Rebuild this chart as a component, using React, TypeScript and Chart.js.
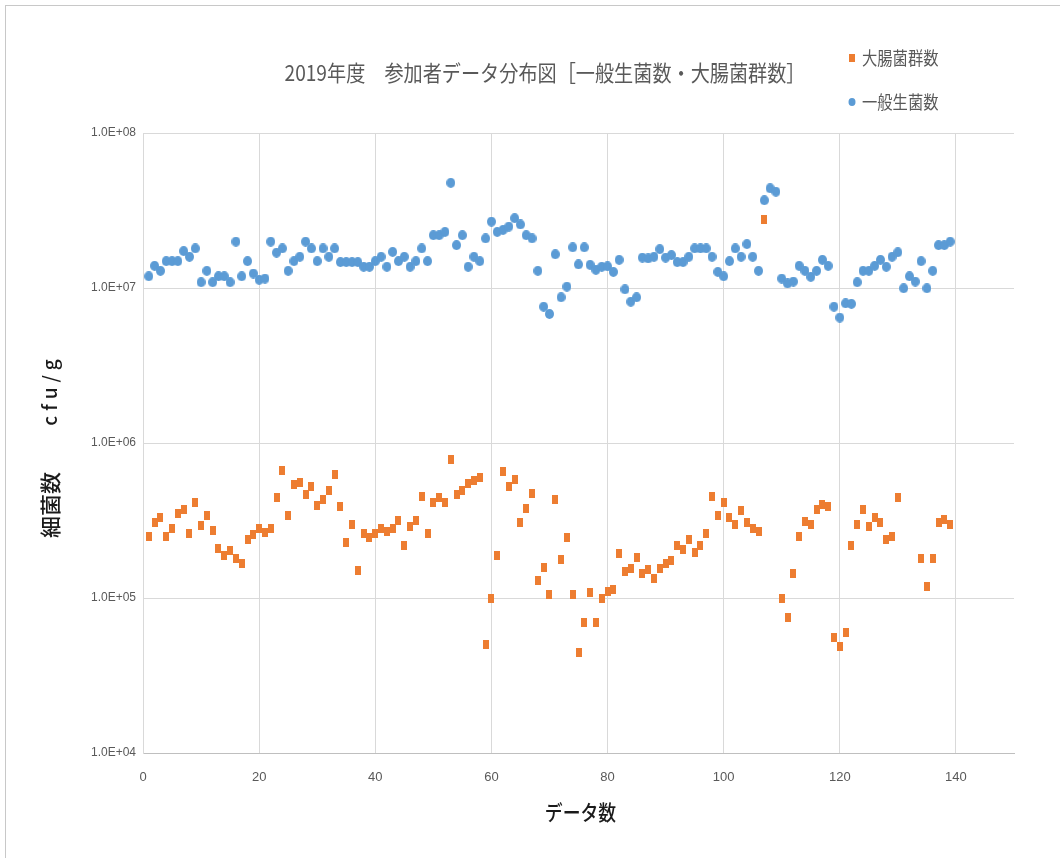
import React, { useEffect, useRef } from "react";
import { Chart, registerables } from "chart.js";

Chart.register(...registerables);

// 参加者番号（横軸）
const participantNo: number[] = Array.from({ length: 139 }, (_, i) => i + 1);

// 大腸菌群数 (cfu/g)
const coliformCounts: (number | null)[] = [
  2.51e5, 3.08e5, 3.31e5, 2.51e5, 2.82e5, 3.52e5, 3.7e5, 2.6e5, 4.12e5, 2.92e5,
  3.42e5, 2.72e5, 2.09e5, 1.88e5, 2.02e5, 1.79e5, 1.68e5, 2.37e5, 2.57e5, 2.79e5,
  2.63e5, 2.79e5, 4.47e5, 6.63e5, 3.4e5, 5.36e5, 5.55e5, 4.67e5, 5.22e5, 3.98e5,
  4.31e5, 4.92e5, 6.3e5, 3.88e5, 2.27e5, 2.98e5, 1.5e5, 2.6e5, 2.47e5, 2.6e5,
  2.8e5, 2.68e5, 2.79e5, 3.18e5, 2.17e5, 2.88e5, 3.18e5, 4.51e5, 2.6e5, 4.12e5,
  4.47e5, 4.12e5, 7.85e5, 4.62e5, 4.92e5, 5.5e5, 5.77e5, 6.01e5, 4.98e4, 9.95e4,
  1.88e5, 6.53e5, 5.23e5, 5.83e5, 3.09e5, 3.77e5, 4.72e5, 1.29e5, 1.58e5, 1.06e5,
  4.31e5, 1.76e5, 2.45e5, 1.05e5, 4.47e4, 6.97e4, 1.09e5, 6.97e4, 9.95e4, 1.1e5,
  1.14e5, 1.94e5, 1.49e5, 1.55e5, 1.83e5, 1.43e5, 1.52e5, 1.33e5, 1.55e5, 1.68e5,
  1.74e5, 2.19e5, 2.06e5, 2.39e5, 1.98e5, 2.19e5, 2.6e5, 4.51e5, 3.4e5, 4.12e5,
  3.31e5, 2.99e5, 3.67e5, 3.09e5, 2.8e5, 2.7e5, 2.75e7, null, null, 9.95e4,
  7.5e4, 1.43e5, 2.5e5, 3.1e5, 3.0e5, 3.7e5, 4.04e5, 3.88e5, 5.55e4, 4.86e4,
  5.97e4, 2.19e5, 3.0e5, 3.73e5, 2.88e5, 3.31e5, 3.09e5, 2.37e5, 2.5e5, 4.42e5,
  null, null, null, 1.79e5, 1.18e5, 1.79e5, 3.09e5, 3.22e5, 3.0e5,
];

// 一般生菌数 (cfu/g)
const generalCounts: number[] = [
  1.19e7, 1.39e7, 1.29e7, 1.49e7, 1.49e7, 1.49e7, 1.73e7, 1.59e7, 1.8e7, 1.09e7,
  1.29e7, 1.09e7, 1.19e7, 1.19e7, 1.09e7, 1.99e7, 1.19e7, 1.49e7, 1.24e7, 1.13e7,
  1.15e7, 1.99e7, 1.69e7, 1.8e7, 1.29e7, 1.49e7, 1.59e7, 1.99e7, 1.8e7, 1.49e7,
  1.8e7, 1.59e7, 1.8e7, 1.47e7, 1.47e7, 1.47e7, 1.47e7, 1.37e7, 1.37e7, 1.49e7,
  1.59e7, 1.37e7, 1.71e7, 1.49e7, 1.59e7, 1.37e7, 1.49e7, 1.8e7, 1.49e7, 2.19e7,
  2.19e7, 2.3e7, 4.77e7, 1.89e7, 2.19e7, 1.37e7, 1.59e7, 1.49e7, 2.09e7, 2.68e7,
  2.3e7, 2.37e7, 2.49e7, 2.82e7, 2.57e7, 2.19e7, 2.09e7, 1.29e7, 7.57e6, 6.8e6,
  1.65e7, 8.71e6, 1.02e7, 1.83e7, 1.42e7, 1.83e7, 1.41e7, 1.31e7, 1.37e7, 1.38e7,
  1.27e7, 1.52e7, 9.8e6, 8.16e6, 8.7e6, 1.57e7, 1.55e7, 1.59e7, 1.78e7, 1.57e7,
  1.63e7, 1.47e7, 1.47e7, 1.59e7, 1.8e7, 1.8e7, 1.8e7, 1.59e7, 1.27e7, 1.19e7,
  1.49e7, 1.8e7, 1.59e7, 1.92e7, 1.59e7, 1.29e7, 3.68e7, 4.4e7, 4.18e7, 1.15e7,
  1.07e7, 1.1e7, 1.39e7, 1.29e7, 1.18e7, 1.29e7, 1.52e7, 1.39e7, 7.57e6, 6.44e6,
  7.96e6, 7.9e6, 1.09e7, 1.29e7, 1.29e7, 1.39e7, 1.52e7, 1.37e7, 1.59e7, 1.7e7,
  9.96e6, 1.19e7, 1.1e7, 1.49e7, 9.96e6, 1.29e7, 1.89e7, 1.89e7, 1.99e7,
];

const xTickValues: number[] = [0, 20, 40, 60, 80, 100, 120, 140];
const yTickValues: number[] = [1e4, 1e5, 1e6, 1e7, 1e8];

const seriesNames = ["大腸菌群数", "一般生菌数"];
const chartTitle = "2019年度　参加者データ分布図［一般生菌数・大腸菌群数］";
const yAxisTitleMain = "細菌数";
const yAxisTitleUnit = "cfu/g";
const xAxisTitle = "データ数";

const ORANGE = "#ED7D31";
const BLUE = "#5B9BD5";
const TEXT_GRAY = "#595959";
const GRID = "#d9d9d9";

function makeRectMarker(w: number, h: number, color: string): HTMLCanvasElement {
  const c = document.createElement("canvas");
  c.width = w;
  c.height = h;
  const g = c.getContext("2d")!;
  g.fillStyle = color;
  g.fillRect(0, 0, w, h);
  return c;
}

function makeEllipseMarker(w: number, h: number, color: string): HTMLCanvasElement {
  const c = document.createElement("canvas");
  c.width = w;
  c.height = h;
  const g = c.getContext("2d")!;
  g.fillStyle = color;
  g.beginPath();
  g.ellipse(w / 2, h / 2, w / 2, h / 2, 0, 0, Math.PI * 2);
  g.fill();
  return c;
}

function drawScaledText(
  ctx: CanvasRenderingContext2D,
  text: string,
  x: number,
  y: number,
  font: string,
  color: string,
  sx: number,
  align: CanvasTextAlign,
  rotate = 0,
  spacing = 0
) {
  ctx.save();
  ctx.translate(x, y);
  if (rotate) ctx.rotate(rotate);
  ctx.scale(sx, 1);
  ctx.font = font;
  ctx.fillStyle = color;
  ctx.textAlign = align;
  ctx.textBaseline = "middle";
  (ctx as any).letterSpacing = `${spacing}px`;
  ctx.fillText(text, 0, 0);
  ctx.restore();
}

const CJK = '"Noto Sans CJK JP", "Noto Sans", sans-serif';

// タイトル・凡例・軸タイトルを描画するプラグイン
const annotationsPlugin = {
  id: "chartTexts",
  afterDraw(chart: Chart) {
    const ctx = chart.ctx;
    const area = chart.chartArea;
    drawScaledText(ctx, chartTitle, 545, 73, `22px ${CJK}`, TEXT_GRAY, 0.87, "center");

    // 凡例
    ctx.save();
    ctx.fillStyle = ORANGE;
    ctx.fillRect(849, 54, 6, 8);
    ctx.fillStyle = BLUE;
    ctx.beginPath();
    ctx.ellipse(852, 102, 3.5, 4, 0, 0, Math.PI * 2);
    ctx.fill();
    ctx.restore();
    drawScaledText(ctx, seriesNames[0], 862, 58, `18px ${CJK}`, TEXT_GRAY, 0.85, "left");
    drawScaledText(ctx, seriesNames[1], 862, 102, `18px ${CJK}`, TEXT_GRAY, 0.85, "left");

    // 縦軸タイトル（細菌数　cfu/g）
    drawScaledText(ctx, yAxisTitleMain, 50, 505, `500 21px ${CJK}`, "#1a1a1a", 1.05, "center", -Math.PI / 2);
    drawScaledText(ctx, yAxisTitleUnit, 50, 390, `500 19px ${CJK}`, "#1a1a1a", 1, "center", -Math.PI / 2, 5);
    // 横軸タイトル
    drawScaledText(ctx, xAxisTitle, (area.left + area.right) / 2 + 2, 812, `500 21px ${CJK}`, "#1a1a1a", 0.85, "center");
  },
};

export default function App() {
  const canvasRef = useRef<HTMLCanvasElement | null>(null);

  useEffect(() => {
    const canvas = canvasRef.current;
    if (!canvas) return;
    const orangeMarker = makeRectMarker(6, 9, ORANGE);
    const blueMarker = makeEllipseMarker(9, 10, BLUE);

    const chart = new Chart(canvas, {
      type: "scatter",
      data: {
        datasets: [
          {
            label: seriesNames[0],
            data: participantNo.map((n, i) => ({ x: n, y: coliformCounts[i] as any })),
            pointStyle: orangeMarker as any,
            backgroundColor: ORANGE,
            borderColor: ORANGE,
          },
          {
            label: seriesNames[1],
            data: participantNo.map((n, i) => ({ x: n, y: generalCounts[i] })),
            pointStyle: blueMarker as any,
            backgroundColor: BLUE,
            borderColor: BLUE,
          },
        ],
      },
      options: {
        responsive: false,
        animation: false,
        devicePixelRatio: 1,
        layout: { padding: { top: 133, right: 46, left: 0, bottom: 0 } },
        plugins: {
          legend: { display: false },
          title: { display: false },
          tooltip: { enabled: false },
        },
        scales: {
          x: {
            type: "linear",
            min: 0,
            max: 150,
            afterBuildTicks: (scale: any) => {
              scale.ticks = xTickValues.map((v) => ({ value: v }));
            },
            afterFit: (scale: any) => {
              scale.height = 105;
            },
            grid: { color: GRID, lineWidth: 1, drawTicks: false },
            border: { color: "#bfbfbf", width: 1 },
            ticks: {
              padding: 17,
              color: TEXT_GRAY,
              font: { family: '"Liberation Sans Narrow", "Liberation Sans", sans-serif', size: 13 },
              maxRotation: 0,
            },
          },
          y: {
            type: "logarithmic",
            min: 1e4,
            max: 1e8,
            afterBuildTicks: (scale: any) => {
              scale.ticks = yTickValues.map((v) => ({ value: v }));
            },
            afterFit: (scale: any) => {
              scale.width = 143;
            },
            grid: { color: GRID, lineWidth: 1, drawTicks: false },
            border: { color: GRID, width: 1 },
            ticks: {
              padding: 7,
              color: TEXT_GRAY,
              font: { family: '"Liberation Sans Narrow", "Liberation Sans", sans-serif', size: 12 },
              callback: (v: any) => {
                const e = Math.round(Math.log10(Number(v)));
                return `1.0E+${String(e).padStart(2, "0")}`;
              },
            },
          },
        },
      },
      plugins: [annotationsPlugin],
    } as any);

    return () => chart.destroy();
  }, []);

  return (
    <div
      style={{
        position: "fixed",
        left: 0,
        top: 0,
        width: 1060,
        height: 858,
        background: "#fff",
        overflow: "hidden",
      }}
    >
      <div
        style={{
          position: "absolute",
          left: 5,
          top: 5,
          width: 1100,
          height: 900,
          borderLeft: "1px solid #c8c8c8",
          borderTop: "1px solid #c8c8c8",
        }}
      />
      <canvas ref={canvasRef} width={1060} height={858} style={{ position: "absolute", left: 0, top: 0 }} />
    </div>
  );
}
